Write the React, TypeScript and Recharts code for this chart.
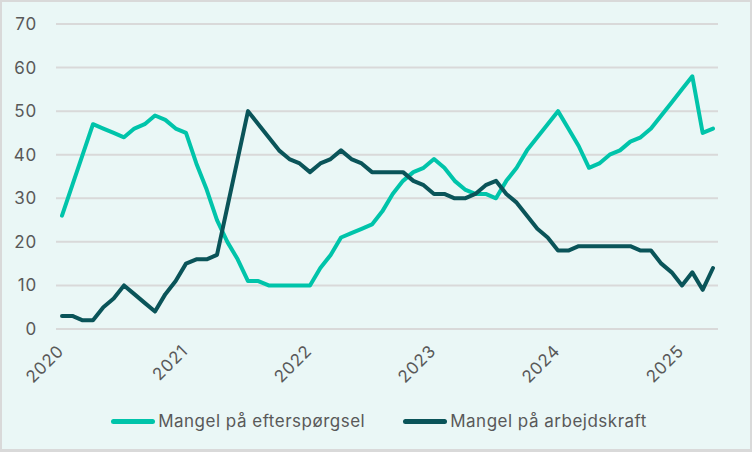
import React from "react";
import { LineChart, Line, XAxis, YAxis, CartesianGrid, Legend } from "recharts";

// Andel virksomheder der angiver begrænsninger (%), månedlig jan 2020 - apr 2025
const startYear = 2020;

const efterspoergsel = [
  26, 33, 40, 47, 46, 45, 44, 46, 47, 49, 48, 46, // 2020
  45, 38, 32, 25, 20, 16, 11, 11, 10, 10, 10, 10, // 2021
  10, 14, 17, 21, 22, 23, 24, 27, 31, 34, 36, 37, // 2022
  39, 37, 34, 32, 31, 31, 30, 34, 37, 41, 44, 47, // 2023
  50, 46, 42, 37, 38, 40, 41, 43, 44, 46, 49, 52, // 2024
  55, 58, 45, 46, // 2025
];

const arbejdskraft = [
  3, 3, 2, 2, 5, 7, 10, 8, 6, 4, 8, 11,
  15, 16, 16, 17, 28, 39, 50, 47, 44, 41, 39, 38,
  36, 38, 39, 41, 39, 38, 36, 36, 36, 36, 34, 33,
  31, 31, 30, 30, 31, 33, 34, 31, 29, 26, 23, 21,
  18, 18, 19, 19, 19, 19, 19, 19, 18, 18, 15, 13,
  10, 13, 9, 14,
];

const yTicks = [0, 10, 20, 30, 40, 50, 60, 70];

const seriesNames = ["Mangel på efterspørgsel", "Mangel på arbejdskraft"];
const colors = ["#00C4AA", "#0A5459"];

const months = efterspoergsel.map((_, i) => {
  const y = startYear + Math.floor(i / 12);
  const m = String((i % 12) + 1).padStart(2, "0");
  return `${y}-${m}`;
});

const data = months.map((month, i) => ({
  month,
  efterspoergsel: efterspoergsel[i],
  arbejdskraft: arbejdskraft[i],
}));

const font = "Inter, 'Open Sans', sans-serif";
const textColor = "#595959";

const YearTick = (props: any) => {
  const { x, y, payload } = props;
  const ax = x + 3;
  const ay = y + 23;
  return (
    <text
      x={ax}
      y={ay}
      transform={`rotate(-45, ${ax}, ${ay})`}
      textAnchor="end"
      fill={textColor}
      fontSize={17}
      letterSpacing={0.8}
      fontFamily={font}
    >
      {String(payload.value).slice(0, 4)}
    </text>
  );
};

const renderLegend = () => (
  <div
    style={{
      display: "flex",
      justifyContent: "center",
      alignItems: "center",
      height: 24,
      gap: 38,
      paddingLeft: 6,
      fontFamily: font,
      fontSize: 17,
      letterSpacing: 0.5,
      color: textColor,
    }}
  >
    {seriesNames.map((name, i) => (
      <div key={name} style={{ display: "flex", alignItems: "center" }}>
        <span
          style={{
            display: "inline-block",
            width: 44,
            height: 5,
            borderRadius: 3,
            background: colors[i],
            marginRight: 3,
          }}
        />
        <span>{name}</span>
      </div>
    ))}
  </div>
);

export default function App() {
  return (
    <div
      style={{
        position: "absolute",
        top: 0,
        left: 0,
        width: 752,
        height: 452,
        background: "#EAF7F6",
        boxShadow: "inset 0 -3px 0 0 #D9D9D9, inset 0 0 0 2px #D9D9D9",
      }}
    >
      <LineChart
        width={752}
        height={452}
        data={data}
        margin={{ top: 24, right: 34, left: 0, bottom: 19 }}
      >
        <CartesianGrid vertical={false} stroke="#D9D9D9" strokeWidth={2} />
        <XAxis
          dataKey="month"
          interval={11}
          tick={<YearTick />}
          tickLine={false}
          axisLine={false}
          tickSize={0}
          tickMargin={0}
          height={80}
          padding={{ left: 6, right: 5 }}
        />
        <YAxis
          domain={[0, 70]}
          ticks={yTicks}
          width={56}
          tickLine={false}
          axisLine={false}
          tickSize={0}
          tickMargin={19}
          tick={{ fill: textColor, fontSize: 17, fontFamily: font, letterSpacing: 0.8 }}
        />
        <Legend
          verticalAlign="bottom"
          content={renderLegend}
          wrapperStyle={{ left: 0, width: 752 }}
        />
        <Line
          type="linear"
          dataKey="efterspoergsel"
          name={seriesNames[0]}
          stroke={colors[0]}
          strokeWidth={4}
          dot={false}
          strokeLinejoin="round"
          strokeLinecap="round"
          isAnimationActive={false}
        />
        <Line
          type="linear"
          dataKey="arbejdskraft"
          name={seriesNames[1]}
          stroke={colors[1]}
          strokeWidth={4}
          dot={false}
          strokeLinejoin="round"
          strokeLinecap="round"
          isAnimationActive={false}
        />
      </LineChart>
    </div>
  );
}
